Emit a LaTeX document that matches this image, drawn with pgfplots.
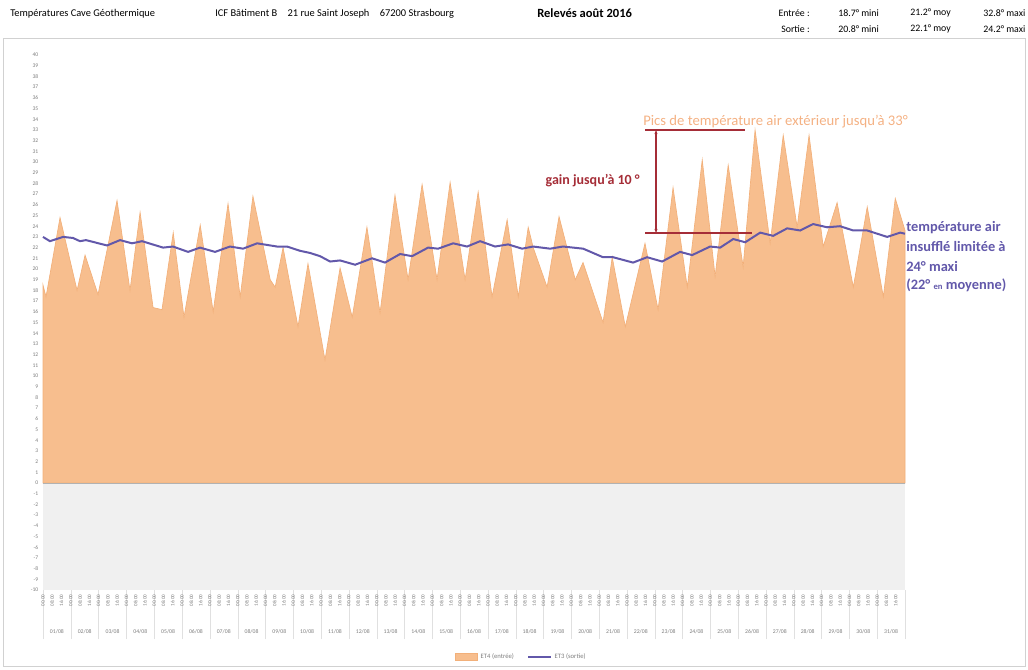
\documentclass[border=0pt]{standalone}
\usepackage{fontspec}
\setmainfont{Carlito}
\usepackage{pgfplots}
\usepackage{pgfplotstable}
\pgfplotsset{compat=1.18}
\usetikzlibrary{arrows.meta}
\definecolor{orfill}{RGB}{247,190,142}
\definecolor{orline}{RGB}{242,176,122}
\definecolor{purp}{RGB}{98,88,170}
\definecolor{darkred}{RGB}{165,45,55}
\definecolor{pictext}{RGB}{244,177,131}
\definecolor{labgray}{RGB}{125,125,125}

% outdoor (entree) temperature, x in hours from 01/08 00:00
\pgfplotstableread{
h v
0 18.5
2.6 17.4
14.7 24.8
29.4 18.0
36.3 21.3
47.5 17.6
63.9 26.4
75.1 18.0
83.8 25.3
95.0 16.4
102.7 16.2
112.4 23.4
121.7 15.5
135.7 24.1
146.9 16.0
159.7 26.1
170.2 17.4
181.2 26.8
196.1 19.0
200.4 18.3
207.2 22.0
220.1 14.6
228.7 20.5
243.4 11.5
256.4 20.1
266.9 15.5
279.6 23.9
290.9 15.9
303.8 26.9
315.1 19.0
327.2 27.9
340.1 19.0
351.4 28.1
364.3 19.0
375.6 27.2
387.6 17.4
400.6 24.6
410.2 17.4
418.8 23.9
423.1 22.0
435.1 18.3
445.4 24.9
459.4 19.0
466.1 20.6
483.4 15.0
491.3 21.1
502.6 14.6
519.6 22.4
530.9 16.2
543.8 27.6
556.1 18.3
569.0 30.2
580.1 19.3
591.4 29.7
604.3 20.2
614.6 33.0
627.6 22.4
638.9 32.5
650.9 23.9
661.2 32.5
673.4 22.1
685.4 26.2
699.4 18.3
711.4 25.8
725.3 17.4
735.6 26.6
744 23.6
}\entree

% blown air (sortie) temperature
\pgfplotstableread{
h v
0 23.0
6.0 22.6
17.3 23.0
25.9 22.9
31.9 22.6
37.1 22.7
55.3 22.2
66.5 22.7
76.8 22.4
85.5 22.6
103.6 22.0
112.2 22.1
125.2 21.6
135.5 22.0
148.5 21.6
161.4 22.1
172.7 21.9
184.8 22.4
202.0 22.1
210.6 22.1
221.9 21.7
230.5 21.5
239.1 21.2
247.8 20.7
256.4 20.8
269.4 20.4
284.0 21.0
295.2 20.6
308.2 21.4
318.6 21.2
332.4 22.0
341.0 21.9
354.0 22.4
366.0 22.1
377.3 22.6
390.2 22.1
401.4 22.3
413.5 21.9
423.0 22.1
437.7 21.9
448.9 22.1
466.2 21.9
483.4 21.1
492.1 21.1
509.3 20.6
521.4 21.1
534.4 20.7
549.9 21.6
560.3 21.3
575.8 22.1
584.5 22.0
595.7 22.8
606.1 22.5
619.0 23.4
630.2 23.1
642.3 23.8
653.5 23.6
664.7 24.2
676.8 23.9
688.0 24.0
699.3 23.6
711.4 23.6
728.6 23.0
739.8 23.4
744 23.3
}\sortie

\pgfplotsset{chartgeom/.style={
  at={(32.25pt,59.25pt)}, anchor=south west,
  scale only axis, width=646.5pt, height=401.25pt,
  xmin=0, xmax=744, ymin=-10, ymax=40}}

\begin{document}
\begin{tikzpicture}
\begin{scope}[x=0.75pt,y=0.75pt]
\path (0,0) rectangle (1028,669);
\draw[black!18] (3,3) rectangle (1025,631);
\node[anchor=west,font=\fontsize{7.8}{8}\selectfont,inner sep=0] at (10,655) {Températures Cave Géothermique};
\node[anchor=west,font=\fontsize{7.8}{8}\selectfont,inner sep=0] at (215,655) {ICF Bâtiment B\quad 21 rue Saint Joseph\quad 67200 Strasbourg};
\node[anchor=west,font=\bfseries\fontsize{9.4}{11}\selectfont,inner sep=0] at (537,656) {Relevés août 2016};
\begin{scope}[font=\fontsize{7.4}{8}\selectfont,inner sep=0]
\node[anchor=east] at (810,656) {Entrée :};
\node[anchor=west] at (838,656) {18.7° mini};
\node[anchor=west] at (910,656) {21.2° moy};
\node[anchor=west] at (983,656) {32.8° maxi};
\node[anchor=east] at (810,640) {Sortie :};
\node[anchor=west] at (838,640) {20.8° mini};
\node[anchor=west] at (910,640) {22.1° moy};
\node[anchor=west] at (983,640) {24.2° maxi};
\end{scope}
\end{scope}

\begin{axis}[
  chartgeom,
  axis line style={draw=none},
  clip=false,
  ytick={-10,...,40},
  yticklabel style={font=\fontsize{4.2}{4.5}\selectfont, text=labgray},
  /pgf/number format/assume math mode=true,
  xtick={0,8,...,736},
  xtick pos=bottom, ytick pos=left,
  major tick length=0pt,
  xticklabels={00:00,08:00,16:00,%
00:00,08:00,16:00,%
00:00,08:00,16:00,%
00:00,08:00,16:00,%
00:00,08:00,16:00,%
00:00,08:00,16:00,%
00:00,08:00,16:00,%
00:00,08:00,16:00,%
00:00,08:00,16:00,%
00:00,08:00,16:00,%
00:00,08:00,16:00,%
00:00,08:00,16:00,%
00:00,08:00,16:00,%
00:00,08:00,16:00,%
00:00,08:00,16:00,%
00:00,08:00,16:00,%
00:00,08:00,16:00,%
00:00,08:00,16:00,%
00:00,08:00,16:00,%
00:00,08:00,16:00,%
00:00,08:00,16:00,%
00:00,08:00,16:00,%
00:00,08:00,16:00,%
00:00,08:00,16:00,%
00:00,08:00,16:00,%
00:00,08:00,16:00,%
00:00,08:00,16:00,%
00:00,08:00,16:00,%
00:00,08:00,16:00,%
00:00,08:00,16:00,%
00:00,08:00,16:00},
  xticklabel style={rotate=90, anchor=east, font=\fontsize{3.8}{4}\selectfont, text=labgray},
  minor xtick={0,24,...,744},
  tick align=outside,
  minor tick length=37pt,
  minor tick style={black!12},
  legend style={at={(0.555,-0.125)}, anchor=center, draw=none, fill=none,
    legend columns=2, font=\fontsize{5}{5.5}\selectfont, text=labgray,
    /tikz/every even column/.append style={column sep=8pt}},
]
\addplot[fill=black!6, draw=none, forget plot] coordinates {(0,-10) (744,-10)} \closedcycle;
\addplot[fill=orfill, draw=orline, line width=0.5pt, area legend] table[x=h,y=v] {\entree} \closedcycle;
\addlegendentry{ET4 (entrée)}
\addplot[purp, line width=1.5pt, no marks] table[x=h,y=v] {\sortie};
\addlegendentry{ET3 (sortie)}
\draw[black!30, line width=0.6pt] (axis cs:0,0) -- (axis cs:744,0);
\end{axis}

\begin{axis}[
  chartgeom,
  axis line style={draw=none},
  ytick=\empty,
  xtick={12,36,...,732},
  xtick pos=bottom,
  major tick length=0pt,
  xticklabels={01/08,02/08,03/08,04/08,05/08,06/08,07/08,08/08,09/08,10/08,11/08,12/08,13/08,14/08,15/08,16/08,17/08,18/08,19/08,20/08,21/08,22/08,23/08,24/08,25/08,26/08,27/08,28/08,29/08,30/08,31/08},
  xticklabel style={anchor=north, yshift=-26pt, font=\fontsize{4.3}{4.5}\selectfont, text=labgray},
]
\end{axis}

\begin{scope}[x=0.75pt,y=0.75pt]
\draw[darkred, line width=0.9pt] (645,539) -- (745,539);
\draw[darkred, line width=0.9pt] (645,436) -- (752,436);
\draw[darkred, line width=0.9pt, {Stealth[length=3pt]}-{Stealth[length=3pt]}] (656,436) -- (656,539);
\node[anchor=east, text=darkred, font=\bfseries\fontsize{10.5}{11}\selectfont, inner sep=0] at (640,488) {gain jusqu'à 10 °};
\node[anchor=west, text=pictext, font=\fontsize{11}{12}\selectfont, inner sep=0] at (643,547) {Pics de température air extérieur jusqu'à 33°};
\begin{scope}[text=purp, font=\bfseries\fontsize{10.8}{12}\selectfont, inner sep=0]
\node[anchor=west] at (906,441) {température air};
\node[anchor=west] at (906,422) {insufflé limitée à};
\node[anchor=west] at (906,403) {24° maxi};
\node[anchor=west] at (906,384) {(22° {\fontsize{6.5}{7}\selectfont en} moyenne)};
\end{scope}
\end{scope}
\end{tikzpicture}
\end{document}
